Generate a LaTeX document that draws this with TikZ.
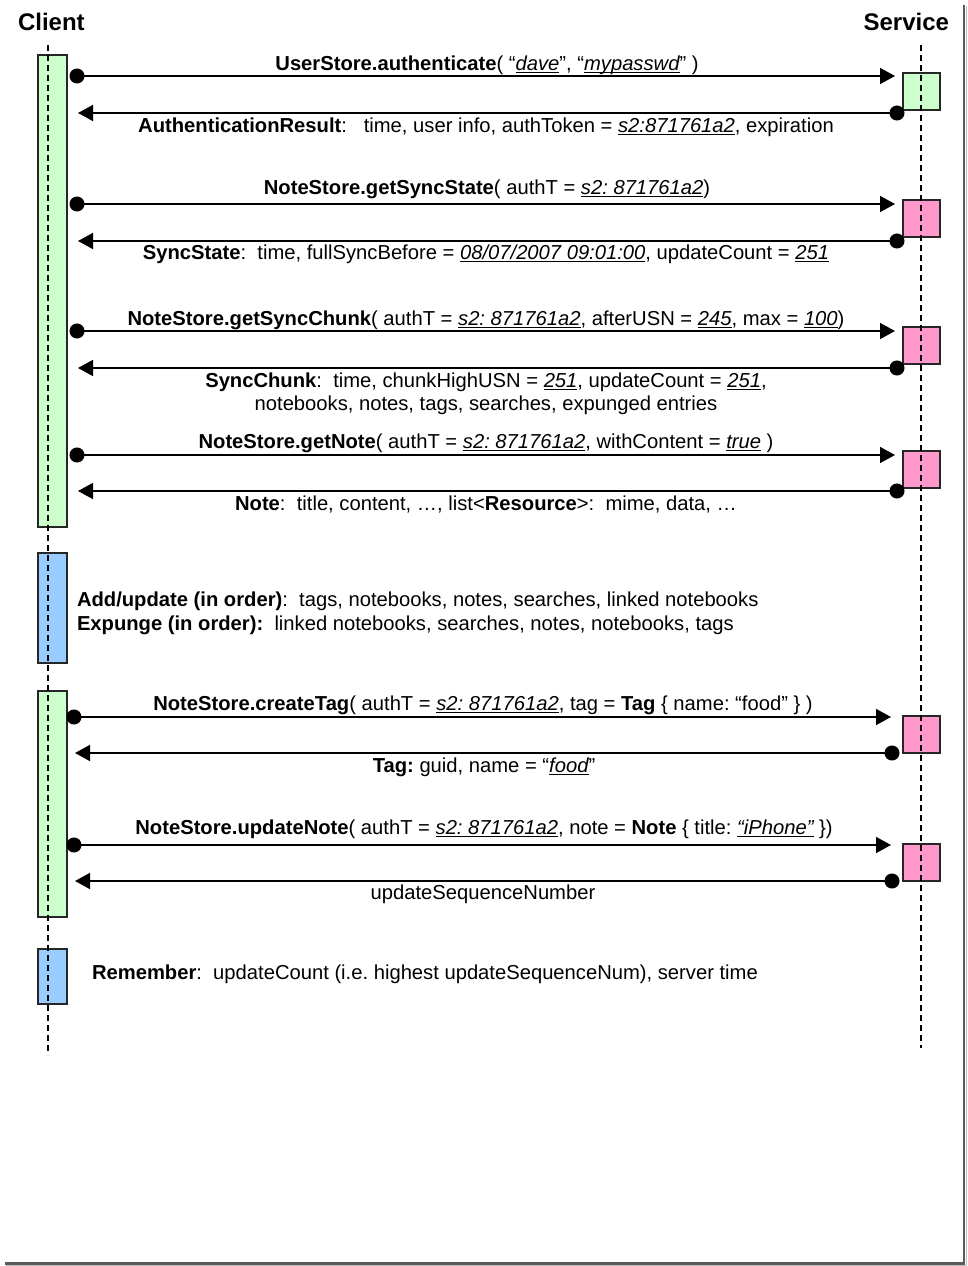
\documentclass[tikz,border=0pt]{standalone}
\usepackage{fontspec}
\setmainfont{Liberation Sans}
\usetikzlibrary{arrows.meta}
\definecolor{actgreen}{HTML}{CCFFCC}
\definecolor{actpink}{HTML}{FF99CC}
\definecolor{actblue}{HTML}{99CCFF}
% italic value with a heavy underline
\newcommand{\uit}[1]{\setbox0=\hbox{\itshape #1}\rlap{\rule[-3pt]{\wd0}{1.4pt}}\box0\relax}
\begin{document}
\frenchspacing
\begin{tikzpicture}[x=1pt,y=-1pt,
  every node/.style={inner sep=0pt, outer sep=0pt},
  lbl/.style={font=\fontsize{20.2}{23}\selectfont, anchor=base},
  head/.style={font=\fontsize{24}{28}\selectfont\bfseries, anchor=base},
  life/.style={dash pattern=on 6pt off 4pt, line width=1.3pt},
  act/.style={draw=black!85, line width=1.2pt},
  cbox/.style={act, minimum width=29pt, anchor=north west},
  sbox/.style={act, minimum width=37pt, minimum height=37pt, anchor=north west},
  msg/.style={line width=1.5pt},
  call/.style={msg, {Circle[length=15pt]}-{Triangle[length=15pt,width=16pt]}},
]
\useasboundingbox (0,0) rectangle (967,1266);
\fill[white] (0,0) rectangle (967,1266);
% page shadow along the right and bottom edges
\draw[black!25, line width=1pt] (966.5,6) -- (966.5,1265.5) -- (6,1265.5);
\draw[black!65, line width=2.5pt] (964,5) -- (964,1263.5) -- (5,1263.5);

% headers
\node[head, anchor=base west] (client) at (18,30) {Client};
\node[head, anchor=base east] (service) at (949,30) {Service};

% client activations
\node[cbox, fill=actgreen, minimum height=472pt] (ca1) at (38,55) {};
\node[cbox, fill=actblue,  minimum height=110pt] (cb1) at (38,553) {};
\node[cbox, fill=actgreen, minimum height=226pt] (ca2) at (38,691) {};
\node[cbox, fill=actblue,  minimum height=55pt]  (cb2) at (38,949) {};

% service activations
\node[sbox, fill=actgreen] (s1) at (903,73) {};
\node[sbox, fill=actpink]  (s2) at (903,200) {};
\node[sbox, fill=actpink]  (s3) at (903,327) {};
\node[sbox, fill=actpink]  (s4) at (903,451) {};
\node[sbox, fill=actpink]  (s5) at (903,716) {};
\node[sbox, fill=actpink]  (s6) at (903,844) {};

% lifelines
\coordinate (ctop) at (48,45);
\coordinate (cbot) at (48,1055);
\coordinate (stop) at (921,45);
\coordinate (sbot) at (921,1048);
\draw[life] (ctop) -- (cbot);
\draw[life] (stop) -- (sbot);

% message end points
\foreach \n/\y in {1/76, 2/204, 3/331, 4/455}{
  \coordinate (q\n a) at (69.5,\y);
  \coordinate (q\n b) at (895,\y);
}
\foreach \n/\y in {1/113, 2/241, 3/368, 4/491}{
  \coordinate (r\n a) at (904.5,\y);
  \coordinate (r\n b) at (78,\y);
}
\foreach \n/\y in {5/717, 6/845}{
  \coordinate (q\n a) at (66.5,\y);
  \coordinate (q\n b) at (891,\y);
}
\foreach \n/\y in {5/753, 6/881}{
  \coordinate (r\n a) at (899.5,\y);
  \coordinate (r\n b) at (75,\y);
}
\foreach \n in {1,...,6}{
  \draw[call] (q\n a) -- (q\n b);
  \draw[call] (r\n a) -- (r\n b);
}

% message labels
\node[lbl] (t1) at (487,70) {\textbf{UserStore.authenticate}( “\uit{dave}”, “\uit{mypasswd}” )};
\node[lbl] (t2) at (486,132) {\textbf{AuthenticationResult}:\ \ \ time, user info, authToken = \uit{s2:871761a2}, expiration};
\node[lbl] (t3) at (487,194) {\textbf{NoteStore.getSyncState}( authT = \uit{s2: 871761a2})};
\node[lbl] (t4) at (486,259) {\textbf{SyncState}:\ \ time, fullSyncBefore = \uit{08/07/2007 09:01:00}, updateCount = \uit{251}};
\node[lbl] (t5) at (486,325) {\textbf{NoteStore.getSyncChunk}( authT = \uit{s2: 871761a2}, afterUSN = \uit{245}, max = \uit{100})};
\node[lbl] (t6) at (486,387) {\textbf{SyncChunk}:\ \ time, chunkHighUSN = \uit{251}, updateCount = \uit{251},};
\node[lbl] (t6b) at (486,410) {notebooks, notes, tags, searches, expunged entries};
\node[lbl] (t7) at (486,448) {\textbf{NoteStore.getNote}( authT = \uit{s2: 871761a2}, withContent = \uit{true} )};
\node[lbl] (t8) at (486,510) {\textbf{Note}:\ \ title, content, …, list<\textbf{Resource}>:\ \ mime, data, …};

\node[lbl, anchor=base west] (n1) at (77,606) {\textbf{Add/update (in order)}:\ \ tags, notebooks, notes, searches, linked notebooks};
\node[lbl, anchor=base west] (n2) at (77,630) {\textbf{Expunge (in order):}\ \ linked notebooks, searches, notes, notebooks, tags};

\node[lbl] (t9) at (483,710) {\textbf{NoteStore.createTag}( authT = \uit{s2: 871761a2}, tag = \textbf{Tag} \{ name: “food” \} )};
\node[lbl] (t10) at (484,772) {\textbf{Tag:} guid, name = “\uit{food}”};
\node[lbl] (t11) at (484,834) {\textbf{NoteStore.updateNote}( authT = \uit{s2: 871761a2}, note = \textbf{Note} \{ title: \uit{“iPhone”} \})};
\node[lbl] (t12) at (483,899) {updateSequenceNumber};

\node[lbl, anchor=base west] (n3) at (92,979) {\textbf{Remember}:\ \ updateCount (i.e. highest updateSequenceNum), server time};
\end{tikzpicture}
\end{document}
